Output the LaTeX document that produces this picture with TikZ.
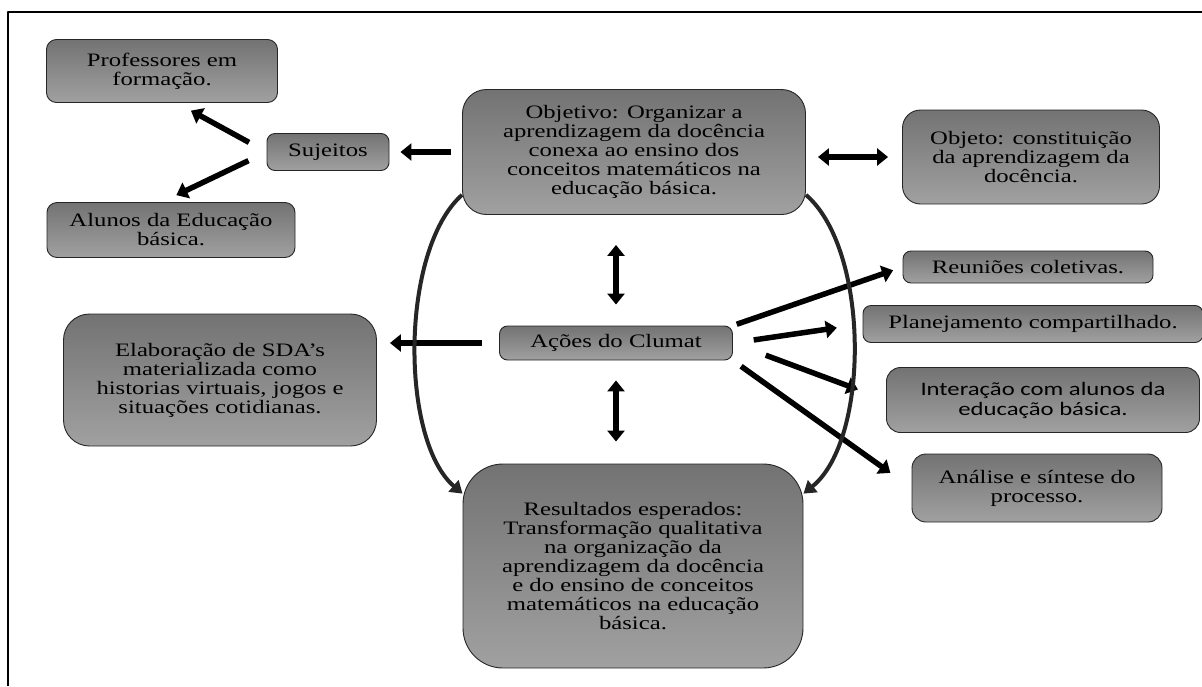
\documentclass[tikz,border=0pt]{standalone}
\usepackage{fontspec}
\setmainfont{Liberation Serif}[FakeStretch=1.3]
\newfontfamily\sansclumat{Carlito}[FakeStretch=1.3]
\usetikzlibrary{arrows.meta}
\tikzset{
	caixa/.style={draw=black!85, line width=0.9pt, rounded corners=10pt,
		top color=black!55, bottom color=black!37, align=center,
		inner sep=2pt, font=\fontsize{19}{19}\selectfont},
	seta/.style={line width=5.5pt, ->},
	dupla/.style={line width=5.5pt, <->},
	curva/.style={line width=4pt, draw=black!85, -{Triangle[length=12pt,width=15pt]}}
}
\begin{document}
\begin{tikzpicture}[x=1pt, y=-1pt, line join=round, >={Triangle[length=11pt,width=17pt]}]
		\useasboundingbox (0,0) rectangle (1202,686);
		%% moldura
		\draw[line width=1.2pt] (8,686) -- (8,12) -- (1202,12);
		
		%% caixas
		\node[caixa, minimum width=231, minimum height=63] (prof) at (162,71) {Professores em\\formação.};
		\node[caixa, minimum width=248, minimum height=55] (alu) at (171,230) {Alunos da Educação\\básica.};
		\node[caixa, minimum width=122, minimum height=37, rounded corners=8pt] (suj) at (328,152) {Sujeitos};
		\node[caixa, minimum width=343, minimum height=125, rounded corners=24pt] (obj) at (634,152) {Objetivo: Organizar a\\aprendizagem da docência\\conexa ao ensino dos\\conceitos matemáticos na\\educação básica.};
		\node[caixa, minimum width=257, minimum height=94, rounded corners=18pt] (objt) at (1031,157) {Objeto: constituição\\da aprendizagem da\\docência.};
		\node[caixa, minimum width=250, minimum height=32, rounded corners=8pt] (reu) at (1028,267) {Reuniões coletivas.};
		\node[caixa, minimum width=340, minimum height=37, rounded corners=8pt] (plan) at (1033,324) {Planejamento compartilhado.};
		\node[caixa, minimum width=313, minimum height=65, rounded corners=14pt, font=\sansclumat\fontsize{19}{20}\selectfont] (int) at (1043,400) {Interação com alunos da\\educação básica.};
		\node[caixa, minimum width=250, minimum height=68, rounded corners=14pt] (ana) at (1037,488) {Análise e síntese do\\processo.};
		\node[caixa, minimum width=313, minimum height=132, rounded corners=26pt] (elab) at (220,380) {Elaboração de SDA’s\\materializada como\\historias virtuais, jogos e\\situações cotidianas.};
		\node[caixa, minimum width=233, minimum height=34, rounded corners=8pt] (acoes) at (616,343) {Ações do Clumat};
		\node[caixa, minimum width=340, minimum height=204, rounded corners=40pt] (res) at (633,566) {Resultados esperados:\\Transformação qualitativa\\na organização da\\aprendizagem da docência\\e do ensino de conceitos\\matemáticos na educação\\básica.};
		
		%% setas
		\draw[seta, shorten <=11pt, shorten >=11pt] (obj.west) -- (suj.east);
		\draw[seta, shorten <=20pt, shorten >=16pt] (suj.west) -- (prof.295);
		\draw[seta, shorten <=20pt, shorten >=16pt] (suj.west) -- (alu.108);
		\draw[dupla, shorten <=12pt, shorten >=14pt] (obj.east |- objt.west) -- (objt.west);
		\draw[dupla, shorten <=30pt, shorten >=21pt] (acoes.north |- obj.south) -- (acoes.north);
		\draw[dupla, shorten <=20pt, shorten >=22pt] (acoes.south) -- (acoes.south |- res.north);
		\draw[seta, shorten <=17pt, shorten >=13pt] (acoes.west) -- (acoes.west -| elab.east);
		\foreach \a/\b/\s/\e in {acoes.north east/reu.west/4/10, acoes.east/plan.west/21/26,
			acoes.east/int.west/35/30, acoes.south east/ana.west/10/26}
		\draw[seta, shorten <=\s pt, shorten >=\e pt] (\a) -- (\b);
		
		%% curvas
		\draw[curva] (obj.194) .. controls (400,250) and (400,440) .. (res.157);
		\draw[curva] (obj.346) .. controls (870,250) and (870,440) .. (res.23);
\end{tikzpicture}
\end{document}
